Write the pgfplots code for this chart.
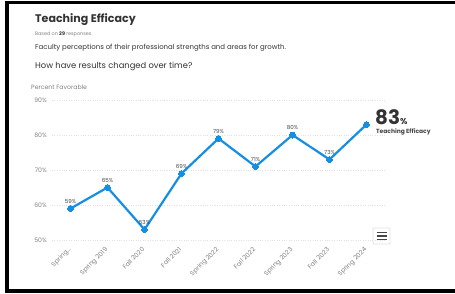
\documentclass[border=0pt]{standalone}
\usepackage{pgfplots}
\pgfplotsset{compat=1.18}
\usepackage{fontspec}
\setmainfont{Poppins}
\definecolor{lineblue}{RGB}{22,142,226}
\definecolor{titlegray}{RGB}{51,51,51}
\definecolor{tickgray}{RGB}{130,130,130}
\definecolor{labgray}{RGB}{70,70,70}
\definecolor{gridgray}{RGB}{225,225,225}
\begin{document}
\begin{tikzpicture}[x=1bp,y=1bp]
\useasboundingbox (0,0) rectangle (455,293);
\fill[white] (0,0) rectangle (455,293);
% frame
\fill[black] (5,289) rectangle (455,292);
\fill[black] (5,0) rectangle (9,292);
\fill[black] (5,0) rectangle (455,4);
% texts
\node[anchor=base west,inner sep=0pt,text=titlegray,font=\fontsize{11.1}{14}\selectfont\bfseries] at (35,271) {Teaching Efficacy};
\node[anchor=base west,inner sep=0pt,text=tickgray,font=\fontsize{4.9}{6}\selectfont] at (35,258) {Based on \textcolor{titlegray}{\textbf{29}} responses};
\node[anchor=base west,inner sep=0pt,text=titlegray,font=\fontsize{7}{9}\selectfont] at (35,244) {Faculty perceptions of their professional strengths and areas for growth.};
\node[anchor=base west,inner sep=0pt,text=titlegray,font=\fontsize{8.4}{11}\selectfont] at (35,225) {How have results changed over time?};
\node[anchor=base west,inner sep=0pt,text=tickgray,font=\fontsize{6.2}{7}\selectfont] at (31,204) {Percent Favorable};
\node[anchor=base west,inner sep=0pt,text=titlegray,font=\fontsize{20}{24}\selectfont\bfseries] at (375,169) {83\fontsize{8.5}{10}\selectfont\%};
\node[anchor=base west,inner sep=0pt,text=labgray,font=\fontsize{6}{7}\selectfont\bfseries] at (376,160) {Teaching Efficacy};
% menu icon
\draw[gridgray,line width=0.8pt,rounded corners=1pt,fill=white] (373,49) rectangle (390,65);
\foreach \yy in {53.5,57,60.5} \draw[labgray,line width=1.1pt] (376.5,\yy) -- (386.5,\yy);
\begin{axis}[
  at={(52bp,53bp)}, anchor=south west,
  scale only axis, width=333bp, height=140bp,
  xmin=-0.5, xmax=8.5, ymin=50, ymax=90,
  axis line style={draw=none},
  ytick={50,60,70,80,90},
  ymajorgrids,
  grid style={gridgray, dotted, line width=0.5pt},
  xtick={0,1,2,3,4,5,6,7,8},
  xticklabels={{Spring\textellipsis},Spring 2019,Fall 2020,Fall 2021,Spring 2022,Fall 2022,Spring 2023,Fall 2023,Spring 2024},
  x tick label style={xshift=-3bp, yshift=-5.7bp, rotate=45, anchor=north east, text=tickgray, font=\fontsize{6.4}{7}\selectfont, inner sep=0.5pt},
  y tick label style={text=tickgray, font=\fontsize{6.2}{7}\selectfont, inner sep=0pt, xshift=-5bp},
  yticklabel={\pgfmathprintnumber{\tick}\%},
  /pgf/number format/assume math mode=true,
  major tick length=0pt,
  tick style={draw=none},
  clip=false,
]
\addplot[lineblue, line width=2.2bp, mark=*, mark size=3bp, mark options={fill=lineblue, draw=lineblue, line width=0pt},
  nodes near coords,
  nodes near coords style={text=labgray, font=\fontsize{5.6}{7}\selectfont, anchor=south, inner sep=0pt, yshift=5bp},
  point meta=explicit symbolic]
coordinates {
(0,59) [59\%]
(1,65) [65\%]
(2,53) [53\%]
(3,69) [69\%]
(4,79) [79\%]
(5,71) [71\%]
(6,80) [80\%]
(7,73) [73\%]
(8,83) [{}]
};
\end{axis}
\end{tikzpicture}
\end{document}
